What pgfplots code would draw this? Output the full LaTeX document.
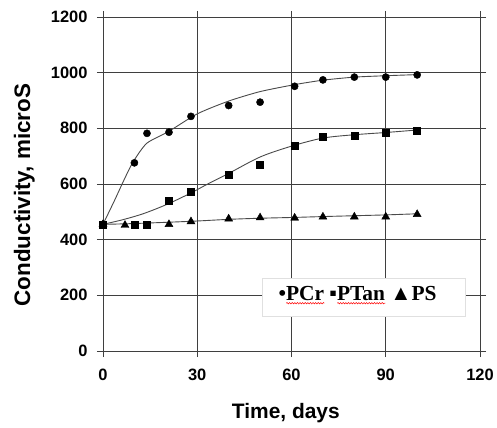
\documentclass[border=0pt]{standalone}
\usepackage{pgfplots}
\pgfplotsset{compat=1.18}
\usetikzlibrary{decorations.pathmorphing}
\usepackage{fontspec}
\setmainfont{Liberation Serif}
\newfontfamily\arialfont{Liberation Sans}

\definecolor{gridgray}{HTML}{3F3F3F}
\definecolor{fitgray}{HTML}{4A4A4A}

% red spell-check wave under a word
\newlength\wavelen
\newcommand\redwave[1]{\setbox0=\hbox{#1}\setlength\wavelen{\wd0}%
  \rlap{\tikz[baseline=0pt]\draw[red, line width=0.5bp, decorate,
    decoration={snake, amplitude=0.7bp, segment length=2.6bp}]
    (0,-2.6bp) -- (\wavelen,-2.6bp);}\box0\relax}
\newsavebox\legbox

\begin{document}
\sbox\legbox{\bfseries\fontsize{21.5}{24}\selectfont •\redwave{PCr} ▪\redwave{PTan} ▲PS}%
\begin{tikzpicture}
\begin{axis}[
    at={(0,0)}, anchor=south west,
    scale only axis,
    width=377bp, height=334bp,
    xmin=0, xmax=120, ymin=0, ymax=1200,
    xtick={0,30,...,120},
    ytick={0,200,...,1200},
    grid=major,
    grid style={gridgray, line width=0.9bp},
    axis line style={gridgray, line width=0.9bp},
    tick style={gridgray, line width=0.9bp},
    tick align=outside,
    major tick length=6bp,
    /pgf/number format/assume math mode=true,
    /pgf/number format/1000 sep={},
    ticklabel style={font=\arialfont\bfseries\fontsize{16.5}{19}\selectfont},
    yticklabel style={xshift=-6bp},
    xticklabel style={yshift=-8bp},
    xlabel={Time, days},
    ylabel={Conductivity, microS},
    xlabel style={font=\arialfont\bfseries\fontsize{21}{24}\selectfont,
        at={(axis cs:58.2,-242)}, anchor=base},
    ylabel style={font=\arialfont\bfseries\fontsize{22.5}{26}\selectfont,
        at={(axis cs:-23.2,560)}, anchor=base},
    clip=false,
]

% fitted curves
\addplot[fitgray, line width=0.9bp, smooth, tension=0.4] coordinates {
    (0,455) (3.8,544) (6.5,610) (9.5,678) (13.9,746) (20.8,788) (30,852)
    (40,898) (50,932) (61,957) (70,973) (80,984) (90,989) (100,993)
};
\addplot[fitgray, line width=0.9bp, smooth, tension=0.5] coordinates {
    (0,455) (6.4,472) (13,494) (20.6,528) (28.2,569) (33,598)
    (40,638) (50,697) (60,736) (70,765) (80,777) (90,785) (100,794)
};
\addplot[fitgray, line width=0.9bp, smooth, tension=0.5] coordinates {
    (0,455) (10,458) (28,466) (40,473) (50,477) (61,480)
    (70,483) (80,486) (90,489) (100,493)
};

% PCr
\addplot[only marks, mark=*, mark size=3.6bp, black] coordinates {
    (0,455) (10,676) (14,782) (21,786) (28,843) (40,882) (50,894)
    (61,951) (70,974) (80,984) (90,984) (100,992)
};
% PS
\addplot[only marks, mark=triangle*, mark size=4.6bp, black] coordinates {
    (0,455) (7,452) (21,455) (28,465) (40,475) (50,479) (61,478)
    (70,482) (80,482) (90,482) (100,491)
};
% PTan
\addplot[only marks, mark=square*, mark size=3.5bp, black] coordinates {
    (0,455) (10,453) (14,453) (21,540) (28,573) (40,634) (50,671)
    (61,739) (70,769) (80,774) (90,783) (100,793)
};

% legend box
\draw[draw={black!12}, line width=0.9bp, fill=white]
    (axis cs:50.8,123) rectangle (axis cs:115.5,262);
\node[anchor=base west, inner sep=0pt] at (axis cs:55.8,181) {\usebox\legbox};
\end{axis}
\pgfresetboundingbox
\path (-103bp,-77bp) rectangle (394bp,351bp);
\end{tikzpicture}
\end{document}
